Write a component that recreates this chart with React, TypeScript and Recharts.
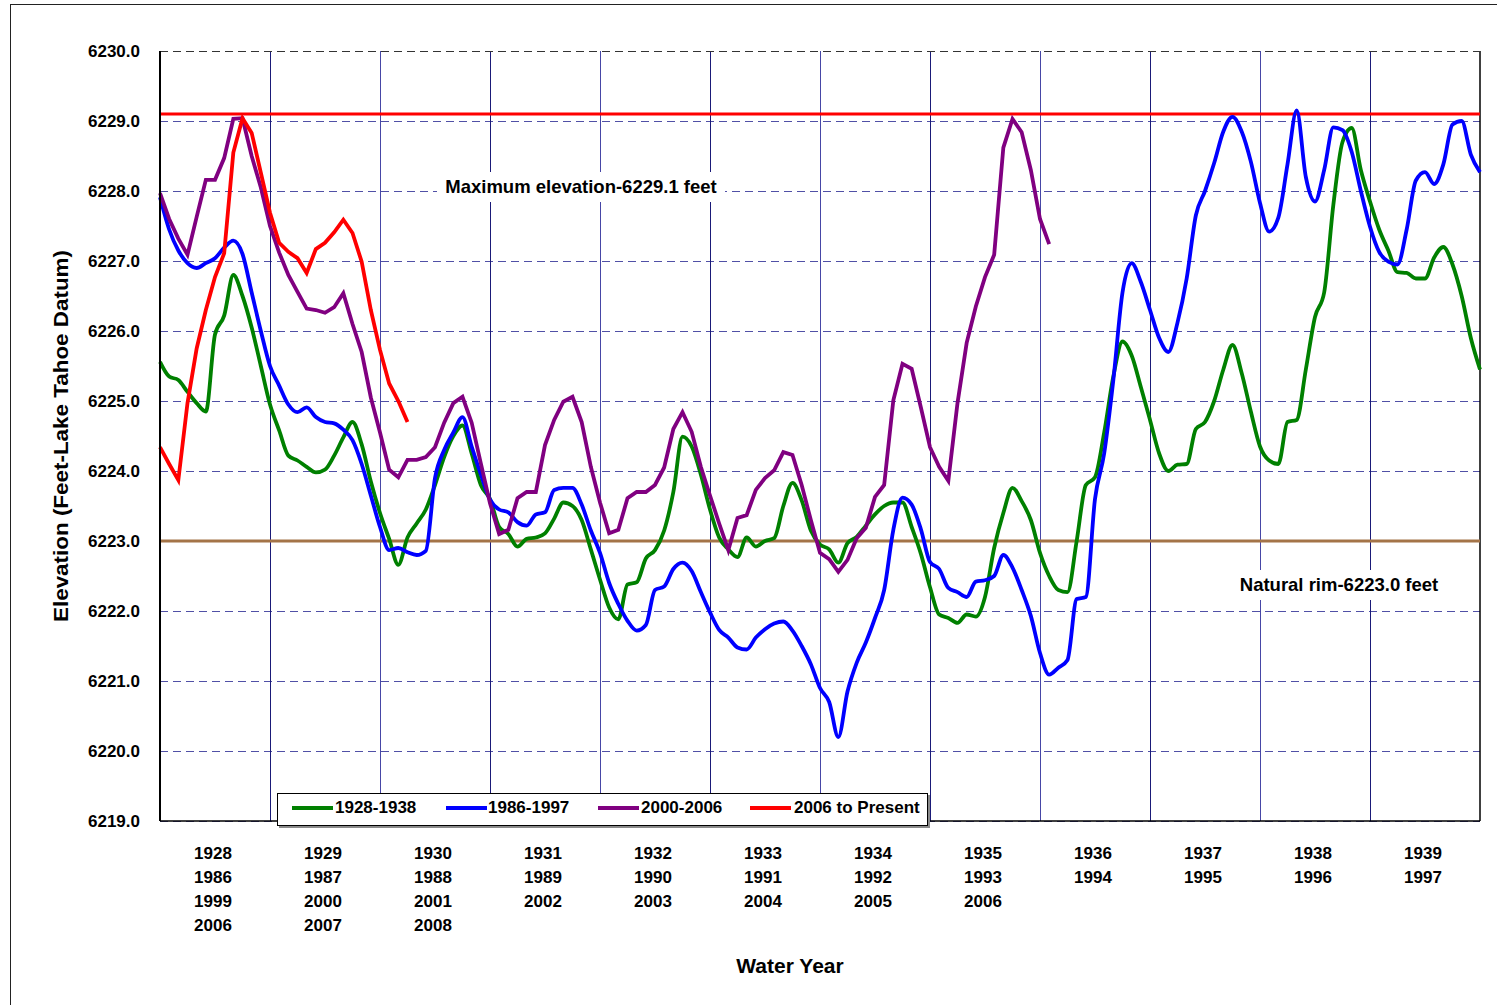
import React from 'react';
import { LineChart, Line, XAxis, YAxis, CartesianGrid, ReferenceLine } from 'recharts';

// monthly lake elevations (ft), month 0 = start of the first water year
const series1928 = [
  6225.56, 6225.35, 6225.3, 6225.13, 6224.97, 6224.85, 6225.95, 6226.22, 6226.8, 6226.5,
  6226.05, 6225.5, 6224.95, 6224.58, 6224.22, 6224.15, 6224.06, 6223.98, 6224.02, 6224.22,
  6224.48, 6224.7, 6224.38, 6223.85, 6223.4, 6223.03, 6222.66, 6223.05, 6223.25, 6223.45,
  6223.8, 6224.2, 6224.5, 6224.65, 6224.25, 6223.8, 6223.6, 6223.2, 6223.1, 6222.92,
  6223.03, 6223.05, 6223.11, 6223.32, 6223.55, 6223.5, 6223.3, 6222.88, 6222.45, 6222.05,
  6221.88, 6222.38, 6222.41, 6222.75, 6222.87, 6223.15, 6223.7, 6224.49, 6224.35, 6223.95,
  6223.45, 6223.05, 6222.88, 6222.77, 6223.05, 6222.92, 6223.0, 6223.04, 6223.5, 6223.83,
  6223.58, 6223.15, 6222.95, 6222.88, 6222.69, 6222.97, 6223.06, 6223.22, 6223.38, 6223.5,
  6223.55, 6223.55, 6223.2, 6222.82, 6222.34, 6221.95, 6221.9, 6221.83, 6221.95, 6221.92,
  6222.2, 6222.9, 6223.4, 6223.76, 6223.57, 6223.3, 6222.83, 6222.5, 6222.3, 6222.27,
  6223.0, 6223.8, 6223.91, 6224.55, 6225.35, 6225.85, 6225.65, 6225.2, 6224.73, 6224.25,
  6224.0, 6224.09, 6224.1, 6224.6, 6224.7, 6225.0, 6225.45, 6225.8, 6225.4, 6224.85,
  6224.35, 6224.15, 6224.1, 6224.7, 6224.73, 6225.45, 6226.2, 6226.55, 6227.8, 6228.7,
  6228.9, 6228.3, 6227.85, 6227.45, 6227.15, 6226.84, 6226.83, 6226.75, 6226.75, 6227.05,
  6227.2, 6226.95, 6226.5, 6225.9, 6225.45,
];

const series1986 = [
  6227.91, 6227.45, 6227.15, 6226.97, 6226.9, 6226.97, 6227.04, 6227.19, 6227.29, 6227.1,
  6226.55, 6226.0, 6225.5, 6225.22, 6224.95, 6224.84, 6224.91, 6224.77, 6224.7, 6224.68,
  6224.59, 6224.44, 6224.1, 6223.65, 6223.2, 6222.87, 6222.9, 6222.84, 6222.8, 6222.86,
  6223.9, 6224.3, 6224.55, 6224.77, 6224.35, 6223.95, 6223.59, 6223.45, 6223.41, 6223.27,
  6223.22, 6223.38, 6223.41, 6223.73, 6223.76, 6223.76, 6223.52, 6223.15, 6222.83, 6222.4,
  6222.1, 6221.86, 6221.72, 6221.8, 6222.3, 6222.35, 6222.6, 6222.69, 6222.57, 6222.27,
  6221.98, 6221.73, 6221.62, 6221.48, 6221.45, 6221.62, 6221.74, 6221.82, 6221.85, 6221.72,
  6221.5, 6221.24, 6220.9, 6220.7, 6220.2, 6220.85, 6221.26, 6221.55, 6221.9, 6222.3,
  6223.16, 6223.62, 6223.52, 6223.17, 6222.7, 6222.6, 6222.33, 6222.27, 6222.2, 6222.42,
  6222.44, 6222.5, 6222.8, 6222.62, 6222.3, 6221.93, 6221.4, 6221.09, 6221.19, 6221.3,
  6222.17, 6222.2, 6223.6, 6224.25, 6225.3, 6226.55, 6226.97, 6226.7, 6226.3, 6225.9,
  6225.7, 6226.12, 6226.75, 6227.65, 6228.0, 6228.4, 6228.85, 6229.06, 6228.85, 6228.42,
  6227.83, 6227.42, 6227.62, 6228.38, 6229.15, 6228.2, 6227.85, 6228.3, 6228.91, 6228.87,
  6228.56, 6228.0, 6227.49, 6227.13, 6226.99, 6226.95, 6227.45, 6228.15, 6228.27, 6228.1,
  6228.38, 6228.95, 6229.0, 6228.52, 6228.27,
];

const series2000 = [
  6227.97, 6227.6, 6227.32, 6227.09, 6227.63, 6228.16, 6228.16, 6228.47, 6229.03, 6229.04,
  6228.5, 6228.05, 6227.5, 6227.12, 6226.8, 6226.56, 6226.32, 6226.3, 6226.26, 6226.34,
  6226.54, 6226.1, 6225.7, 6225.05, 6224.55, 6224.02, 6223.91, 6224.16, 6224.16, 6224.2,
  6224.34, 6224.69, 6224.97, 6225.06, 6224.69, 6224.11, 6223.54, 6223.1, 6223.16, 6223.61,
  6223.7, 6223.7, 6224.37, 6224.73, 6224.99, 6225.06, 6224.7, 6224.06, 6223.55, 6223.11,
  6223.16, 6223.61, 6223.7, 6223.7, 6223.8, 6224.05, 6224.6, 6224.84, 6224.56, 6224.06,
  6223.65, 6223.25, 6222.87, 6223.33, 6223.37, 6223.73, 6223.9, 6224.01, 6224.27, 6224.23,
  6223.8, 6223.3, 6222.83, 6222.74, 6222.56, 6222.73, 6223.04, 6223.19, 6223.63, 6223.8,
  6225.01, 6225.53, 6225.46, 6224.91, 6224.34, 6224.06, 6223.86, 6224.97, 6225.83, 6226.35,
  6226.77, 6227.09, 6228.62, 6229.03, 6228.84, 6228.3, 6227.6, 6227.24,
];

const series2006 = [
  6224.34, 6224.1, 6223.87, 6224.97, 6225.75, 6226.3, 6226.77, 6227.11, 6228.55, 6229.04,
  6228.83, 6228.26, 6227.69, 6227.26, 6227.13, 6227.04, 6226.83, 6227.17, 6227.26, 6227.41,
  6227.59, 6227.4, 6226.99, 6226.3, 6225.73, 6225.25, 6225.0, 6224.7,
];

// tick labels stacked under each water year
const yearLabels1928 = ['1928', '1929', '1930', '1931', '1932', '1933', '1934', '1935', '1936', '1937', '1938', '1939'];
const yearLabels1986 = ['1986', '1987', '1988', '1989', '1990', '1991', '1992', '1993', '1994', '1995', '1996', '1997'];
const yearLabels1999 = ['1999', '2000', '2001', '2002', '2003', '2004', '2005', '2006'];
const yearLabels2006 = ['2006', '2007', '2008'];

const yearMidMonths = [6, 18, 30, 42, 54, 66, 78, 90, 102, 114, 126, 138];
const yearBoundaries = [12, 24, 36, 48, 60, 72, 84, 96, 108, 120, 132];
const elevationTicks = [6219, 6220, 6221, 6222, 6223, 6224, 6225, 6226, 6227, 6228, 6229, 6230];

const maxElevation = 6229.1;
const naturalRim = 6223.0;

const FONT = '"Liberation Sans", Arial, Helvetica, sans-serif';

const rows = series1928.map((g, m) => ({
  m,
  g,
  b: series1986[m],
  p: series2000[m],
  r: series2006[m],
}));

const legendItems = [
  { name: '1928-1938', color: '#008000', line: 14, text: 57 },
  { name: '1986-1997', color: '#0000ff', line: 168, text: 210 },
  { name: '2000-2006', color: '#800080', line: 320, text: 363 },
  { name: '2006 to Present', color: '#ff0000', line: 472, text: 516 },
];

function YearTick({ x, y, payload }: any) {
  const i = Math.round((payload.value - 6) / 12);
  const lines = [yearLabels1928[i], yearLabels1986[i], yearLabels1999[i], yearLabels2006[i]].filter(Boolean);
  return (
    <g>
      {lines.map((t, k) => (
        <text key={k} x={x - 2} y={y + 38 + k * 24} textAnchor="middle" fontFamily={FONT} fontSize={17} fontWeight="bold" fill="#000">
          {t}
        </text>
      ))}
    </g>
  );
}

function ElevationTick({ x, y, payload }: any) {
  return (
    <text x={x} y={y + 6} textAnchor="end" fontFamily={FONT} fontSize={17} fontWeight="bold" fill="#000">
      {Number(payload.value).toFixed(1)}
    </text>
  );
}

export default function App() {
  return (
    <div style={{ position: 'absolute', left: 0, top: 0, width: 1497, height: 1005, overflow: 'hidden', background: '#fff', fontFamily: FONT }}>
      {/* outer chart frame */}
      <div style={{ position: 'absolute', left: 10, top: 4, width: 1520, height: 1030, borderLeft: '1px solid #222', borderTop: '1px solid #222' }} />

      <div style={{ position: 'absolute', left: 0, top: 0 }}>
        <LineChart width={1497} height={1005} data={rows} margin={{ top: 51, right: 17, bottom: 64, left: 10 }}>
          <CartesianGrid vertical={false} stroke="#5050a6" strokeDasharray="8 5" shapeRendering="crispEdges" />
          <XAxis
            type="number"
            dataKey="m"
            domain={[0, 144]}
            ticks={yearMidMonths}
            interval={0}
            tick={<YearTick />}
            tickLine={false}
            tickSize={0}
            tickMargin={0}
            height={120}
            axisLine={{ stroke: '#000', strokeWidth: 1.5 }}
          />
          <YAxis
            type="number"
            domain={[6219, 6230]}
            ticks={elevationTicks}
            interval={0}
            width={150}
            tick={<ElevationTick />}
            tickLine={false}
            tickSize={0}
            tickMargin={20}
            axisLine={{ stroke: '#000', strokeWidth: 2 }}
          />
          {yearBoundaries.map((v, i) => (
            <ReferenceLine key={v} x={v} stroke={i % 2 === 0 ? '#1a1a78' : '#4646a6'} strokeWidth={1} shapeRendering="crispEdges" />
          ))}
          <ReferenceLine x={144} stroke="#000" strokeWidth={1.5} />
          <ReferenceLine y={6230} stroke="#333" strokeDasharray="8 5" strokeWidth={1} shapeRendering="crispEdges" />
          <ReferenceLine y={maxElevation} stroke="#ff0000" strokeWidth={3} />
          <ReferenceLine y={naturalRim} stroke="#a47448" strokeWidth={3} />

          <Line type="monotone" dataKey="g" name="1928-1938" stroke="#008000" strokeWidth={3.8} dot={false} isAnimationActive={false} />
          <Line type="monotone" dataKey="b" name="1986-1997" stroke="#0000ff" strokeWidth={3.8} dot={false} isAnimationActive={false} />
          <Line type="linear" dataKey="p" name="2000-2006" stroke="#800080" strokeWidth={3.8} dot={false} isAnimationActive={false} />
          <Line type="linear" dataKey="r" name="2006 to Present" stroke="#ff0000" strokeWidth={3.8} dot={false} isAnimationActive={false} />
        </LineChart>
      </div>

      {/* axis titles */}
      <svg width={1497} height={1005} style={{ position: 'absolute', left: 0, top: 0, pointerEvents: 'none' }}>
        <text
          x={0}
          y={0}
          transform="translate(68,436) rotate(-90)"
          textAnchor="middle"
          fontFamily={FONT}
          fontSize={21}
          fontWeight="bold"
          textLength={372}
          lengthAdjust="spacingAndGlyphs"
        >
          Elevation (Feet-Lake Tahoe Datum)
        </text>
        <text x={790} y={973} textAnchor="middle" fontFamily={FONT} fontSize={21} fontWeight="bold">
          Water Year
        </text>
      </svg>

      {/* annotations */}
      <div style={{ position: 'absolute', left: 437, top: 172, width: 288, height: 30, lineHeight: '30px', background: '#fff', textAlign: 'center', fontSize: 18.5, fontWeight: 'bold', color: '#000', whiteSpace: 'nowrap' }}>
        Maximum elevation-6229.1 feet
      </div>
      <div style={{ position: 'absolute', left: 1233, top: 570, width: 212, height: 30, lineHeight: '30px', background: '#fff', textAlign: 'center', fontSize: 18.5, fontWeight: 'bold', color: '#000', whiteSpace: 'nowrap' }}>
        Natural rim-6223.0 feet
      </div>

      {/* legend */}
      <div style={{ position: 'absolute', left: 277, top: 793, width: 649, height: 31, border: '1px solid #000', background: '#fff', boxShadow: '2px 2px 0 #8a8a8a' }}>
        {legendItems.map((it) => (
          <React.Fragment key={it.name}>
            <div style={{ position: 'absolute', left: it.line, top: 12, width: 41, height: 4, background: it.color }} />
            <div style={{ position: 'absolute', left: it.text, top: 4, lineHeight: '19px', fontSize: 17, fontWeight: 'bold', color: '#000', whiteSpace: 'nowrap' }}>
              {it.name}
            </div>
          </React.Fragment>
        ))}
      </div>
    </div>
  );
}
